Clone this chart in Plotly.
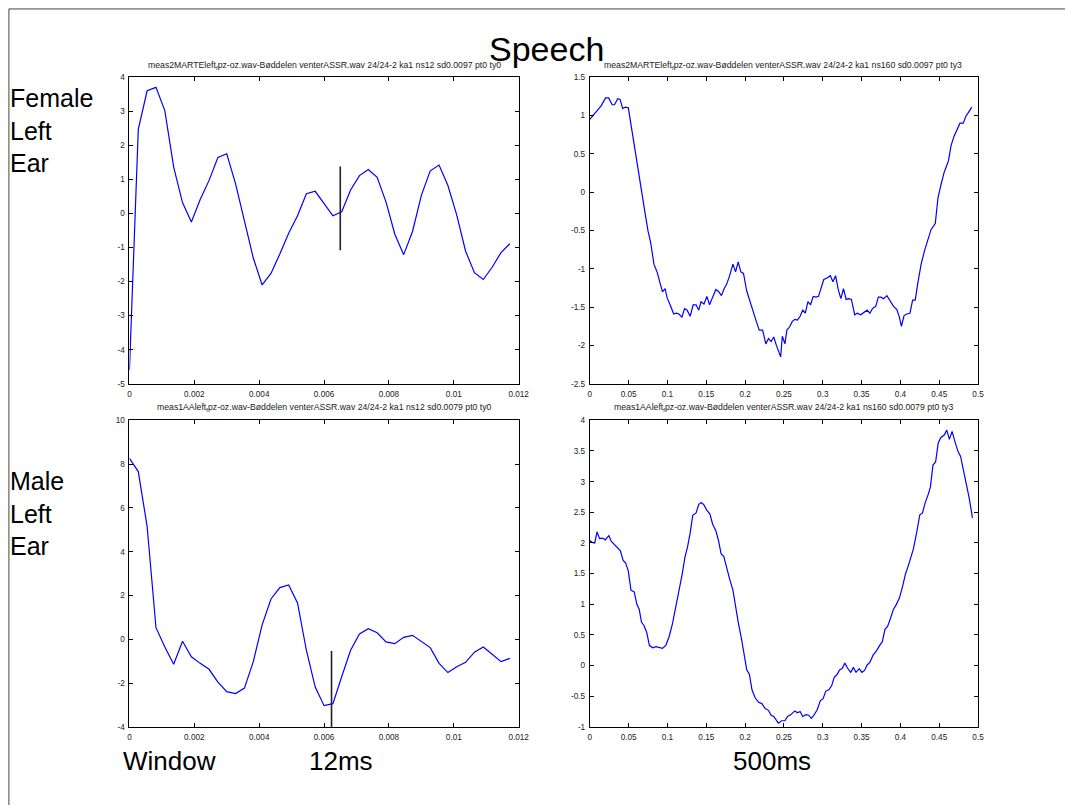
import plotly.graph_objects as go

W, H = 1076, 810

# ---------------- data ----------------
# 12 ms windows: 44 samples over 0.012 s
n12 = 44
dt12 = 0.012 / n12
female_12 = [-4.6, 2.47, 3.6, 3.7, 3.02, 1.36, 0.32, -0.25, 0.41, 0.97, 1.64, 1.75,
             0.87, -0.19, -1.31, -2.1, -1.76, -1.19, -0.58, -0.07, 0.58, 0.65, 0.29,
             -0.07, 0.05, 0.69, 1.11, 1.29, 1.06, 0.34, -0.61, -1.21, -0.53, 0.53,
             1.25, 1.42, 0.82, -0.05, -1.11, -1.74, -1.94, -1.58, -1.15, -0.89]
male_12 = [8.26, 7.66, 5.15, 0.53, -0.35, -1.14, -0.09, -0.8, -1.1, -1.37, -1.96, -2.39,
           -2.48, -2.23, -1.02, 0.66, 1.84, 2.36, 2.48, 1.66, -0.5, -2.18, -3.03, -2.94,
           -1.7, -0.5, 0.24, 0.48, 0.3, -0.12, -0.2, 0.09, 0.18, -0.08, -0.38, -1.1,
           -1.52, -1.25, -1.05, -0.59, -0.35, -0.68, -1.02, -0.87]
t12 = [i * dt12 for i in range(n12)]

female_marker_x = [0.0065, 0.0065]
female_marker_y = [1.38, -1.08]
male_marker_x = [0.00623, 0.00623]
male_marker_y = [-0.53, -4.0]

# 500 ms windows
female_500_t = [0.0, 0.0042, 0.0097, 0.0148, 0.0203, 0.0242, 0.0288, 0.0318, 0.036, 0.039,
                0.0424, 0.0458, 0.0496, 0.0538, 0.058, 0.0623, 0.0665, 0.0708, 0.075, 0.0784,
                0.0826, 0.0869, 0.0903, 0.0936, 0.097, 0.0996, 0.1038, 0.108, 0.1114, 0.1148,
                0.1186, 0.122, 0.1254, 0.1292, 0.1331, 0.1369, 0.1403, 0.1432, 0.147, 0.1508,
                0.1542, 0.158, 0.1623, 0.1661, 0.1695, 0.1729, 0.1763, 0.1801, 0.1843, 0.1877,
                0.1911, 0.1945, 0.1979, 0.2021, 0.2064, 0.2106, 0.2148, 0.2182, 0.2225, 0.2267,
                0.2301, 0.2335, 0.2369, 0.2403, 0.2458, 0.2479, 0.2513, 0.2538, 0.2572, 0.2606,
                0.264, 0.2674, 0.2708, 0.2742, 0.2775, 0.2809, 0.2843, 0.2877, 0.2911, 0.2945,
                0.2979, 0.3013, 0.3055, 0.3097, 0.3131, 0.3165, 0.3199, 0.3233, 0.3267, 0.3301,
                0.3335, 0.3369, 0.3411, 0.3445, 0.3487, 0.353, 0.3572, 0.3606, 0.364, 0.3682,
                0.3716, 0.375, 0.3784, 0.3826, 0.3869, 0.3911, 0.3953, 0.3987, 0.4013, 0.4047,
                0.4081, 0.4123, 0.4157, 0.4191, 0.4225, 0.4267, 0.4309, 0.4352, 0.4394, 0.4449,
                0.4483, 0.4521, 0.4564, 0.4619, 0.4653, 0.4691, 0.4733, 0.4767, 0.4809, 0.4843,
                0.4877, 0.4919]
female_500_v = [0.95, 1.0, 1.06, 1.13, 1.23, 1.23, 1.14, 1.14, 1.22, 1.21,
                1.09, 1.11, 1.10, 0.82, 0.56, 0.30, 0.0, -0.25, -0.51, -0.66,
                -0.94, -1.05, -1.18, -1.30, -1.26, -1.38, -1.48, -1.59, -1.58, -1.59,
                -1.63, -1.52, -1.54, -1.62, -1.47, -1.47, -1.54, -1.43, -1.46, -1.36,
                -1.47, -1.37, -1.27, -1.30, -1.35, -1.26, -1.20, -1.09, -0.94, -1.04,
                -0.91, -1.04, -1.06, -1.29, -1.44, -1.57, -1.70, -1.80, -1.80, -1.98,
                -1.91, -1.95, -1.89, -2.0, -2.15, -1.88, -1.98, -1.80, -1.76, -1.69,
                -1.66, -1.67, -1.62, -1.54, -1.58, -1.43, -1.47, -1.36, -1.37, -1.36,
                -1.24, -1.14, -1.12, -1.09, -1.17, -1.09, -1.27, -1.39, -1.26, -1.40,
                -1.39, -1.40, -1.60, -1.58, -1.60, -1.57, -1.54, -1.58, -1.52, -1.49,
                -1.37, -1.37, -1.39, -1.35, -1.42, -1.49, -1.53, -1.63, -1.75, -1.61,
                -1.59, -1.58, -1.41, -1.41, -1.18, -0.94, -0.77, -0.64, -0.49, -0.41,
                -0.08, 0.09, 0.26, 0.41, 0.61, 0.73, 0.82, 0.90, 0.90, 0.99,
                1.04, 1.11]

male_500_t = [0.0, 0.003, 0.0064, 0.0093, 0.0127, 0.0161, 0.0199, 0.0246, 0.0275, 0.0318,
              0.036, 0.0394, 0.0428, 0.0462, 0.0496, 0.053, 0.0572, 0.0606, 0.0636, 0.0665,
              0.0699, 0.0733, 0.0767, 0.0809, 0.0852, 0.0894, 0.0936, 0.0979, 0.1021, 0.1064,
              0.1106, 0.1148, 0.1191, 0.1225, 0.1258, 0.1292, 0.1326, 0.1369, 0.1403, 0.1436,
              0.147, 0.1504, 0.1547, 0.1581, 0.1623, 0.1657, 0.1691, 0.1725, 0.1767, 0.1801,
              0.1843, 0.1877, 0.1911, 0.1953, 0.1987, 0.2021, 0.2055, 0.2089, 0.2131, 0.2174,
              0.2216, 0.2258, 0.2301, 0.2335, 0.2369, 0.2403, 0.2428, 0.247, 0.2513, 0.2547,
              0.2589, 0.264, 0.2674, 0.2708, 0.2742, 0.2784, 0.2818, 0.2852, 0.2886, 0.2928,
              0.297, 0.3004, 0.3038, 0.3081, 0.3114, 0.3148, 0.3182, 0.3216, 0.325, 0.3284,
              0.3318, 0.336, 0.3394, 0.3428, 0.347, 0.3504, 0.3538, 0.3572, 0.3606, 0.3648,
              0.3691, 0.3733, 0.3767, 0.3801, 0.3835, 0.3869, 0.3911, 0.3945, 0.3987, 0.403,
              0.4064, 0.4097, 0.4131, 0.4165, 0.4208, 0.425, 0.4284, 0.4318, 0.436, 0.4386,
              0.4419, 0.4453, 0.4487, 0.4521, 0.4564, 0.4597, 0.4631, 0.4665, 0.4699, 0.4742,
              0.4775, 0.4809, 0.4852, 0.4886, 0.4928]
male_500_v = [2.04, 2.01, 2.0, 2.18, 2.07, 2.08, 2.05, 2.12, 2.03, 1.97,
              1.91, 1.87, 1.72, 1.67, 1.54, 1.23, 1.20, 1.0, 0.92, 0.71,
              0.65, 0.54, 0.33, 0.29, 0.31, 0.30, 0.28, 0.33, 0.47, 0.68,
              0.95, 1.19, 1.50, 1.77, 1.93, 2.16, 2.45, 2.49, 2.63, 2.66,
              2.62, 2.54, 2.47, 2.31, 2.20, 2.04, 1.82, 1.78, 1.55, 1.41,
              1.23, 0.95, 0.71, 0.44, 0.21, -0.07, -0.14, -0.40, -0.53, -0.60,
              -0.62, -0.70, -0.73, -0.81, -0.83, -0.90, -0.94, -0.90, -0.90, -0.83,
              -0.80, -0.74, -0.77, -0.75, -0.83, -0.80, -0.81, -0.86, -0.81, -0.72,
              -0.57, -0.54, -0.42, -0.39, -0.33, -0.19, -0.15, -0.07, -0.05, 0.04,
              -0.04, -0.11, -0.03, -0.11, -0.05, -0.11, -0.08, 0.01, 0.05, 0.17,
              0.24, 0.33, 0.39, 0.59, 0.64, 0.76, 0.92, 0.99, 1.10, 1.30,
              1.49, 1.61, 1.77, 1.89, 2.16, 2.46, 2.49, 2.65, 2.80, 2.91,
              3.27, 3.32, 3.63, 3.72, 3.76, 3.84, 3.69, 3.82, 3.67, 3.49,
              3.41, 3.21, 2.97, 2.73, 2.41]

# tick labels
x12_ticks = [0, 0.002, 0.004, 0.006, 0.008, 0.01, 0.012]
x12_text = ["0", "0.002", "0.004", "0.006", "0.008", "0.01", "0.012"]
x500_ticks = [0, 0.05, 0.1, 0.15, 0.2, 0.25, 0.3, 0.35, 0.4, 0.45, 0.5]
x500_text = ["0", "0.05", "0.1", "0.15", "0.2", "0.25", "0.3", "0.35", "0.4", "0.45", "0.5"]
y_tl_ticks = [-5, -4, -3, -2, -1, 0, 1, 2, 3, 4]
y_tr_ticks = [-2.5, -2, -1.5, -1, -0.5, 0, 0.5, 1, 1.5]
y_bl_ticks = [-4, -2, 0, 2, 4, 6, 8, 10]
y_br_ticks = [-1, -0.5, 0, 0.5, 1, 1.5, 2, 2.5, 3, 3.5, 4]

titles = [
    "meas2MARTEleft<sub>f</sub>pz-oz.wav-Bøddelen venterASSR.wav 24/24-2 ka1 ns12 sd0.0097 pt0 ty0",
    "meas2MARTEleft<sub>f</sub>pz-oz.wav-Bøddelen venterASSR.wav 24/24-2 ka1 ns160 sd0.0097 pt0 ty3",
    "meas1AAleft<sub>f</sub>pz-oz.wav-Bøddelen venterASSR.wav 24/24-2 ka1 ns12 sd0.0079 pt0 ty0",
    "meas1AAleft<sub>f</sub>pz-oz.wav-Bøddelen venterASSR.wav 24/24-2 ka1 ns160 sd0.0079 pt0 ty3",
]

# ---------------- figure ----------------
FONT = "Liberation Sans, Arial, sans-serif"
BLUE = "#0000ff"

def px_x(p):
    return p / W

def px_y(p):
    return 1 - p / H

dom_x_left = [px_x(129), px_x(523)]
dom_x_right = [px_x(595), px_x(988)]
dom_y_top = [px_y(384), px_y(74)]
dom_y_bot = [px_y(731), px_y(421)]

fig = go.Figure()

line = dict(color=BLUE, width=1.2)
mline = dict(color="#222222", width=1.6)

fig.add_trace(go.Scatter(x=t12, y=female_12, mode="lines", line=line, xaxis="x", yaxis="y"))
fig.add_trace(go.Scatter(x=female_marker_x, y=female_marker_y, mode="lines", line=mline, xaxis="x", yaxis="y"))
fig.add_trace(go.Scatter(x=female_500_t, y=female_500_v, mode="lines", line=line, xaxis="x2", yaxis="y2"))
fig.add_trace(go.Scatter(x=t12, y=male_12, mode="lines", line=line, xaxis="x3", yaxis="y3"))
fig.add_trace(go.Scatter(x=male_marker_x, y=male_marker_y, mode="lines", line=mline, xaxis="x3", yaxis="y3"))
fig.add_trace(go.Scatter(x=male_500_t, y=male_500_v, mode="lines", line=line, xaxis="x4", yaxis="y4"))

tickfont = dict(family=FONT, size=8.2, color="#222222")

def axis(domain, rng, tv, tt, anchor):
    return dict(domain=domain, range=rng, tickvals=tv, ticktext=tt, anchor=anchor,
                showline=True, linecolor="black", linewidth=1, mirror="allticks",
                ticks="inside", ticklen=4, tickcolor="black", tickwidth=1,
                showgrid=False, zeroline=False, tickfont=tickfont, fixedrange=True,
                ticklabelstandoff=2)

fig.update_layout(
    width=W, height=H, autosize=False,
    margin=dict(l=0, r=0, t=0, b=0),
    paper_bgcolor="white", plot_bgcolor="white",
    showlegend=False,
    xaxis=axis(dom_x_left, [0, 0.012], x12_ticks, x12_text, "y"),
    yaxis=axis(dom_y_top, [-5, 4], y_tl_ticks, [str(v) for v in y_tl_ticks], "x"),
    xaxis2=axis(dom_x_right, [0, 0.5], x500_ticks, x500_text, "y2"),
    yaxis2=axis(dom_y_top, [-2.5, 1.5], y_tr_ticks, [f"{v:g}" for v in y_tr_ticks], "x2"),
    xaxis3=axis(dom_x_left, [0, 0.012], x12_ticks, x12_text, "y3"),
    yaxis3=axis(dom_y_bot, [-4, 10], y_bl_ticks, [str(v) for v in y_bl_ticks], "x3"),
    xaxis4=axis(dom_x_right, [0, 0.5], x500_ticks, x500_text, "y4"),
    yaxis4=axis(dom_y_bot, [-1, 4], y_br_ticks, [f"{v:g}" for v in y_br_ticks], "x4"),
)

ann = []
# subplot titles
title_pos = [(326, 62), (791, 62), (326, 408), (791, 408)]
for t, (cx, cy) in zip(titles, title_pos):
    ann.append(dict(text=t, x=px_x(cx), y=px_y(cy), xref="paper", yref="paper",
                    xanchor="center", yanchor="middle", showarrow=False,
                    font=dict(family=FONT, size=8.7, color="#222222")))
# big title
ann.append(dict(text="Speech", x=px_x(551), y=px_y(46), xref="paper", yref="paper",
                xanchor="center", yanchor="middle", showarrow=False,
                font=dict(family=FONT, size=34, color="black")))
# row labels
ann.append(dict(text="Female<br>Left<br>Ear", x=px_x(6), y=px_y(128), xref="paper", yref="paper",
                xanchor="left", yanchor="middle", align="left", showarrow=False,
                font=dict(family=FONT, size=25, color="black")))
ann.append(dict(text="Male<br>Left<br>Ear", x=px_x(6), y=px_y(515), xref="paper", yref="paper",
                xanchor="left", yanchor="middle", align="left", showarrow=False,
                font=dict(family=FONT, size=25, color="black")))
# bottom labels
for txt, cx in [("Window", 170), ("12ms", 343), ("500ms", 779)]:
    ann.append(dict(text=txt, x=px_x(cx), y=px_y(765), xref="paper", yref="paper",
                    xanchor="center", yanchor="middle", showarrow=False,
                    font=dict(family=FONT, size=26, color="black")))
fig.update_layout(annotations=ann)

# page frame
fig.update_layout(shapes=[
    dict(type="line", xref="paper", yref="paper", x0=px_x(7), x1=1, y0=px_y(5), y1=px_y(5),
         line=dict(color="#444444", width=1)),
    dict(type="line", xref="paper", yref="paper", x0=px_x(7), x1=px_x(7), y0=px_y(5), y1=0,
         line=dict(color="#444444", width=1)),
])

post = (
    "var s=document.createElement('style');"
    "s.textContent='html,body{margin:0;padding:0;overflow:hidden;width:1076px;height:810px;}';"
    "document.head.appendChild(s);"
    "var g=document.getElementById('{plot_id}');"
    "g.style.position='fixed';g.style.left='0';g.style.top='0';"
)

fig.write_html("out.html", config={"displayModeBar": False, "responsive": False},
               post_script=post)
